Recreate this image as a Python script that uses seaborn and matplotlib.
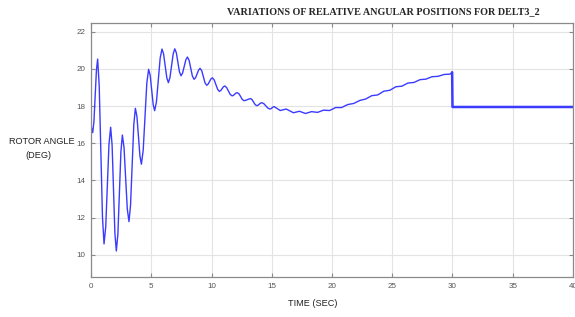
import pandas as pd
import matplotlib
matplotlib.use("Agg")
import matplotlib.pyplot as plt
import seaborn as sns

# Rotor angle trace (time in s, angle in deg)
time_s = [0.0, 0.14, 0.24, 0.45, 0.55, 0.68, 0.95, 1.08, 1.22, 1.49, 1.63, 1.75,
          1.98, 2.10, 2.23, 2.48, 2.60, 2.74, 3.01, 3.15, 3.28, 3.55, 3.68, 3.81,
          4.06, 4.18, 4.33, 4.63, 4.78, 4.91, 5.16, 5.28, 5.43, 5.74, 5.89, 6.02,
          6.29, 6.42, 6.55, 6.82, 6.95, 7.08, 7.34, 7.47, 7.60, 7.87, 8.00, 8.14,
          8.41, 8.55, 8.68, 8.93, 9.05, 9.19, 9.46, 9.60, 9.72, 9.95, 10.07,
          10.22, 10.51, 10.65, 10.76, 10.99, 11.10, 11.25, 11.55, 11.70, 11.81,
          12.03, 12.14, 12.28, 12.56, 12.70, 12.84, 13.11, 13.25, 13.37, 13.62,
          13.75, 13.85, 14.07, 14.17, 14.34, 14.68, 14.85, 14.94, 15.11, 15.2,
          15.7, 16.2, 16.8, 17.3, 17.8, 18.3, 18.8, 19.3, 19.8, 20.3, 20.8, 21.3,
          21.8, 22.3, 22.8, 23.3, 23.8, 24.3, 24.8, 25.3, 25.8, 26.3, 26.8, 27.3,
          27.8, 28.3, 28.8, 29.3, 29.8, 29.97]
angle_deg = [16.93, 16.57, 17.15, 19.95, 20.53, 19.08, 12.03, 10.58, 11.50, 15.94,
             16.86, 15.89, 11.17, 10.20, 11.11, 15.53, 16.44, 15.76, 12.46, 11.78,
             12.67, 16.99, 17.88, 17.44, 15.31, 14.87, 15.62, 19.23, 19.98, 19.65,
             18.08, 17.75, 18.23, 20.59, 21.07, 20.81, 19.52, 19.26, 19.53, 20.81,
             21.08, 20.87, 19.84, 19.63, 19.78, 20.49, 20.64, 20.46, 19.62, 19.44,
             19.53, 19.94, 20.03, 19.90, 19.25, 19.12, 19.18, 19.46, 19.52, 19.41,
             18.90, 18.79, 18.83, 19.04, 19.08, 19.00, 18.63, 18.55, 18.57, 18.70,
             18.72, 18.66, 18.35, 18.29, 18.31, 18.38, 18.40, 18.34, 18.08, 18.02,
             18.04, 18.16, 18.18, 18.13, 17.89, 17.84, 17.86, 17.95, 17.97, 17.76,
             17.84, 17.64, 17.72, 17.60, 17.70, 17.66, 17.78, 17.76, 17.92, 17.92,
             18.08, 18.14, 18.30, 18.38, 18.56, 18.60, 18.80, 18.85, 19.04, 19.07,
             19.24, 19.27, 19.42, 19.45, 19.58, 19.60, 19.70, 19.72, 19.82]

# after the switching event at t = 30 s
time_after = [29.97, 30.0, 40.0]
angle_after = [19.82, 17.95, 17.95]

df = pd.DataFrame({"t": time_s, "angle": angle_deg})
df_after = pd.DataFrame({"t": time_after, "angle": angle_after})

sns.set_theme(style="whitegrid")
plt.rcParams["font.family"] = ["Liberation Sans", "DejaVu Sans"]

fig = plt.figure(figsize=(5.75, 3.17), dpi=100)
ax = fig.add_axes([0.1583, 0.1262, 0.8382, 0.8012])

line_color = "#3b3bff"
sns.lineplot(data=df, x="t", y="angle", ax=ax, color=line_color, lw=1.0,
             estimator=None, sort=False)
sns.lineplot(data=df_after, x="t", y="angle", ax=ax, color=line_color, lw=1.8,
             estimator=None, sort=False)

ax.set_xlim(0, 40)
ax.set_ylim(8.8, 22.47)
ax.set_xticks(range(0, 41, 5))
ax.set_yticks(range(10, 23, 2))
ax.set_xlabel("")
ax.set_ylabel("")

ax.grid(True, color="#e3e3e3", lw=0.8)
for side in ax.spines.values():
    side.set_visible(True)
    side.set_color("#8a8a8a")
    side.set_linewidth(0.9)
ax.tick_params(axis="both", direction="in", length=3, width=0.8, color="#8a8a8a",
               labelsize=5.8, labelcolor="#555555", top=True, right=True,
               bottom=True, left=True, pad=4)

# titles and labels
fig.text(0.666, 0.962, "VARIATIONS OF RELATIVE ANGULAR POSITIONS FOR DELT3_2",
         ha="center", va="center", fontsize=7.3, fontweight="bold",
         family=["Liberation Serif", "DejaVu Serif"])
fig.text(0.073, 0.555, "ROTOR ANGLE", ha="center", va="center", fontsize=6.6,
         color="#222222")
fig.text(0.066, 0.508, "(DEG)", ha="center", va="center", fontsize=6.6,
         color="#222222")
fig.text(0.544, 0.044, "TIME (SEC)", ha="center", va="center", fontsize=6.6,
         color="#222222")

fig.savefig("out.png", dpi=100)
